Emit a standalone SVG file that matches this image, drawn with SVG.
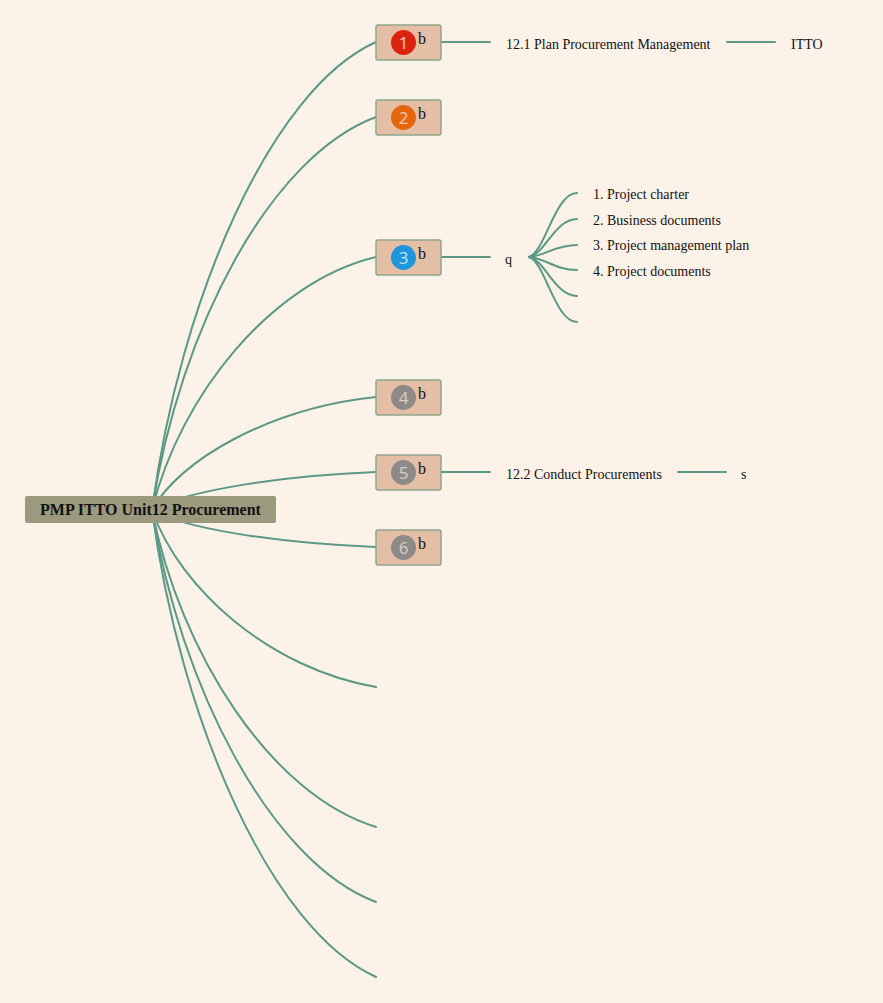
<svg xmlns="http://www.w3.org/2000/svg" width="883" height="1003" viewBox="0 0 883 1003">
<style>
.bg{fill:#fdf2e8}
.ln{fill:none;stroke:#5b9886;stroke-width:2;stroke-linecap:round}
.box{fill:#e5bea6;stroke:#8fa68e;stroke-width:1.5}
.num{font-family:"Noto Sans","DejaVu Sans",sans-serif;font-size:17px;text-anchor:middle}
.b{font-family:"Liberation Serif",serif;font-size:16px;fill:#111}
.lbl{font-family:"Liberation Serif",serif;font-size:14px;fill:#111}
.root{fill:#9b9a7f}
.rt{font-family:"Liberation Serif",serif;font-size:16px;font-weight:bold;fill:#111;text-anchor:middle}
</style>
<rect class="bg" x="0" y="0" width="883" height="1003"/>
<g id="connectors">
<path class="ln" d="M152,510 C180,299 271,89 376,42"/>
<path class="ln" d="M152,510 C180,327 271,156 376,117"/>
<path class="ln" d="M152,510 C180,396 271,282 376,257"/>
<path class="ln" d="M152,510 C180,459 271,408 376,397"/>
<path class="ln" d="M152,510 C180,493 271,476 376,472"/>
<path class="ln" d="M152,510 C180,527 271,543 376,547"/>
<path class="ln" d="M152,510 C180,590 271,669 376,687"/>
<path class="ln" d="M152,510 C180,653 271,795 376,827"/>
<path class="ln" d="M152,510 C180,686 271,863 376,902"/>
<path class="ln" d="M152,510 C180,720 271,930 376,977"/>
<path class="ln" d="M441,42 H490"/>
<path class="ln" d="M727,42 H775"/>
<path class="ln" d="M441,257 H490"/>
<path class="ln" d="M441,472 H490"/>
<path class="ln" d="M678,472 H726"/>
<path class="ln" d="M529,257 C545,252 555,193 577,193"/>
<path class="ln" d="M529,257 C545,254 555,219 577,219"/>
<path class="ln" d="M529,257 C545,256 555,245 577,245"/>
<path class="ln" d="M529,257 C545,258 555,270 577,270"/>
<path class="ln" d="M529,257 C545,260 555,296 577,296"/>
<path class="ln" d="M529,257 C545,262 555,322 577,322"/>
</g>
<g id="root">
<rect class="root" x="25" y="496" width="251" height="27" rx="2"/>
<text class="rt" x="150.5" y="515">PMP ITTO Unit12 Procurement</text>
</g>
<g id="node1">
<rect class="box" x="376" y="25" width="65" height="35" rx="2"/>
<circle cx="403.5" cy="42.5" r="12.5" fill="#dc230f"/>
<text class="num" x="403.5" y="48.5" fill="#f3c4b4">1</text>
<text class="b" x="418" y="44">b</text>
</g>
<g id="node2">
<rect class="box" x="376" y="100" width="65" height="35" rx="2"/>
<circle cx="403.5" cy="117.5" r="12.5" fill="#e4670f"/>
<text class="num" x="403.5" y="123.5" fill="#f5c7a8">2</text>
<text class="b" x="418" y="119">b</text>
</g>
<g id="node3">
<rect class="box" x="376" y="240" width="65" height="35" rx="2"/>
<circle cx="403.5" cy="257.5" r="12.5" fill="#1e95dd"/>
<text class="num" x="403.5" y="263.5" fill="#bfe0f5">3</text>
<text class="b" x="418" y="259">b</text>
</g>
<g id="node4">
<rect class="box" x="376" y="380" width="65" height="35" rx="2"/>
<circle cx="403.5" cy="397.5" r="12.5" fill="#8d8a88"/>
<text class="num" x="403.5" y="403.5" fill="#d7cbc3">4</text>
<text class="b" x="418" y="399">b</text>
</g>
<g id="node5">
<rect class="box" x="376" y="455" width="65" height="35" rx="2"/>
<circle cx="403.5" cy="472.5" r="12.5" fill="#8d8a88"/>
<text class="num" x="403.5" y="478.5" fill="#d7cbc3">5</text>
<text class="b" x="418" y="474">b</text>
</g>
<g id="node6">
<rect class="box" x="376" y="530" width="65" height="35" rx="2"/>
<circle cx="403.5" cy="547.5" r="12.5" fill="#8d8a88"/>
<text class="num" x="403.5" y="553.5" fill="#d7cbc3">6</text>
<text class="b" x="418" y="549">b</text>
</g>
<g id="n-plan">
<text class="lbl" x="506" y="49">12.1 Plan Procurement Management</text>
</g>
<g id="n-itto">
<text class="lbl" x="791" y="49">ITTO</text>
</g>
<g id="n-q">
<text class="lbl" x="505" y="264">q</text>
</g>
<g id="n-in1"><text class="lbl" x="593" y="199">1. Project charter</text></g>
<g id="n-in2"><text class="lbl" x="593" y="225">2. Business documents</text></g>
<g id="n-in3"><text class="lbl" x="593" y="250">3. Project management plan</text></g>
<g id="n-in4"><text class="lbl" x="593" y="276">4. Project documents</text></g>
<g id="n-conduct">
<text class="lbl" x="506" y="479">12.2 Conduct Procurements</text>
</g>
<g id="n-s">
<text class="lbl" x="741" y="479">s</text>
</g>
</svg>
